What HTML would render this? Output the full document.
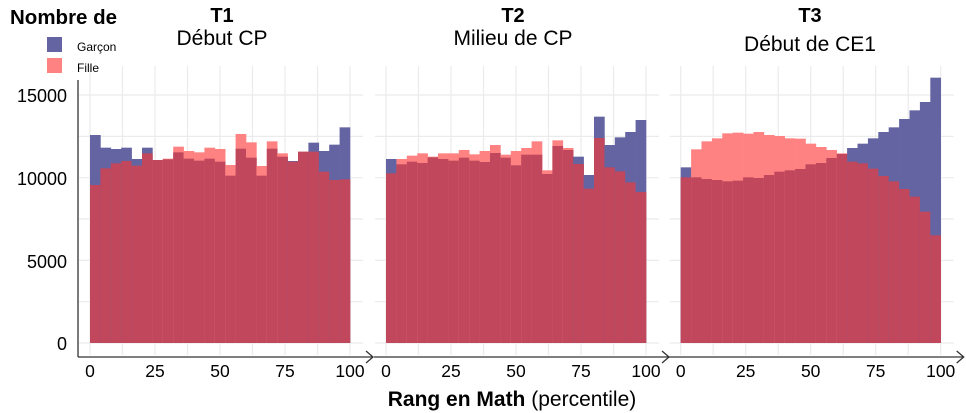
<!DOCTYPE html>
<html><head><meta charset="utf-8"><style>
body{margin:0;background:#fff;width:966px;height:413px;overflow:hidden}
svg{display:block;font-family:"Liberation Sans",sans-serif}
</style></head><body>
<svg id="s" width="966" height="413" xmlns="http://www.w3.org/2000/svg">
<g id="grid"></g><g id="bars"></g>
<g fill="#000">
<text x="10" y="24" font-size="20.5" font-weight="bold">Nombre de</text>
<rect x="47" y="37" width="15" height="15" fill="#6464a2"/>
<rect x="47" y="58" width="15" height="15" fill="#ff8282"/>
<text x="77" y="51" font-size="12">Garçon</text>
<text x="77" y="72" font-size="12">Fille</text>
<text x="222" y="22" font-size="20" font-weight="bold" text-anchor="middle">T1</text>
<text x="222" y="45" font-size="21" text-anchor="middle">Début CP</text>
<text x="513" y="22" font-size="20" font-weight="bold" text-anchor="middle">T2</text>
<text x="513" y="45" font-size="21" text-anchor="middle">Milieu de CP</text>
<text x="810" y="22" font-size="20" font-weight="bold" text-anchor="middle">T3</text>
<text x="810" y="51" font-size="21" text-anchor="middle">Début de CE1</text>
<g font-size="18" text-anchor="end">
<text x="67" y="102">15000</text><text x="67" y="185">10000</text>
<text x="67" y="268">5000</text><text x="67" y="350">0</text></g>
<text x="512" y="406" font-size="21" text-anchor="middle"><tspan font-weight="bold">Rang en Math</tspan> (percentile)</text>
</g>
<g id="axes" stroke="#333" stroke-width="1.3" fill="none"></g>
<g id="xl" font-size="17.5" text-anchor="middle"></g>
</svg>
<script>
const NS="http://www.w3.org/2000/svg";
function el(p,t,a,txt){const e=document.createElementNS(NS,t);for(const k in a)e.setAttribute(k,a[k]);if(txt!==undefined)e.textContent=txt;document.getElementById(p).appendChild(e);}
const W=10.4,base=343;
const P=[
{x0:90,d:[[405,555],[443,505],[447,490],[443,483],[477,497],[443,460],[480,480],[478,476],[457,440],[476,453],[482,457],[476,443],[485,447],[527,495],[446,402],[473,427],[527,498],[446,424],[470,460],[483,485],[455,455],[428,455],[453,515],[434,540],[382,538]],map:z=>z/3},
{x0:386,d:[[237,280],[253,237],[245,227],[249,220],[232,230],[237,220],[242,220],[233,210],[242,223],[246,213],[219,195],[233,224],[256,213],[224,204],[224,184],[282,271],[198,181],[210,204],[230,252],[285,326],[110,174],[195,262],[172,274],[156,307],[120,336]],map:z=>80+z/3},
{x0:680.7,d:[[292,322],[322,238],[327,214],[330,205],[334,190],[332,188],[322,191],[324,186],[315,195],[305,198],[301,205],[297,206],[283,221],[279,231],[264,240],[252,250],[234,275],[221,280],[205,296],[186,318],[172,334],[147,357],[121,380],[96,425],[23,496]],map:z=>70+z/3}
];
P.forEach((p,i)=>{
 const L=p.x0-12,R=p.x0+273;
 for(let k=0;k<=8;k++){const x=p.x0+k*32.5;el("grid","line",{x1:x,x2:x,y1:66,y2:355,stroke:"#ebebeb","stroke-width":1.2});}
 for(let k=0;k<=6;k++){const y=base-k*41.33;el("grid","line",{x1:L+1,x2:R,y1:y,y2:y,stroke:"#ebebeb","stroke-width":1.2});}
 p.d.forEach((b,j)=>{
  const bt=p.map(b[0]),pt=p.map(b[1]);const x=p.x0+j*W;
  const top=Math.min(bt,pt),low=Math.max(bt,pt);
  el("bars","rect",{x:x,y:top,width:W+0.3,height:base-top,fill:bt<pt?"#6464a2":"#ff8282"});
  el("bars","rect",{x:x,y:low,width:W+0.3,height:base-low,fill:"#c0475c"});
 });
 if(i==0)el("axes","line",{x1:L,x2:L,y1:80,y2:357});
 el("axes","line",{x1:L,x2:R+10,y1:357,y2:357});
 el("axes","polyline",{points:`${R+3},351 ${R+10},357 ${R+3},363`});
 [0,25,50,75,100].forEach((v,k)=>el("xl","text",{x:p.x0+k*65,y:377},String(v)));
});
</script>
</body></html>
